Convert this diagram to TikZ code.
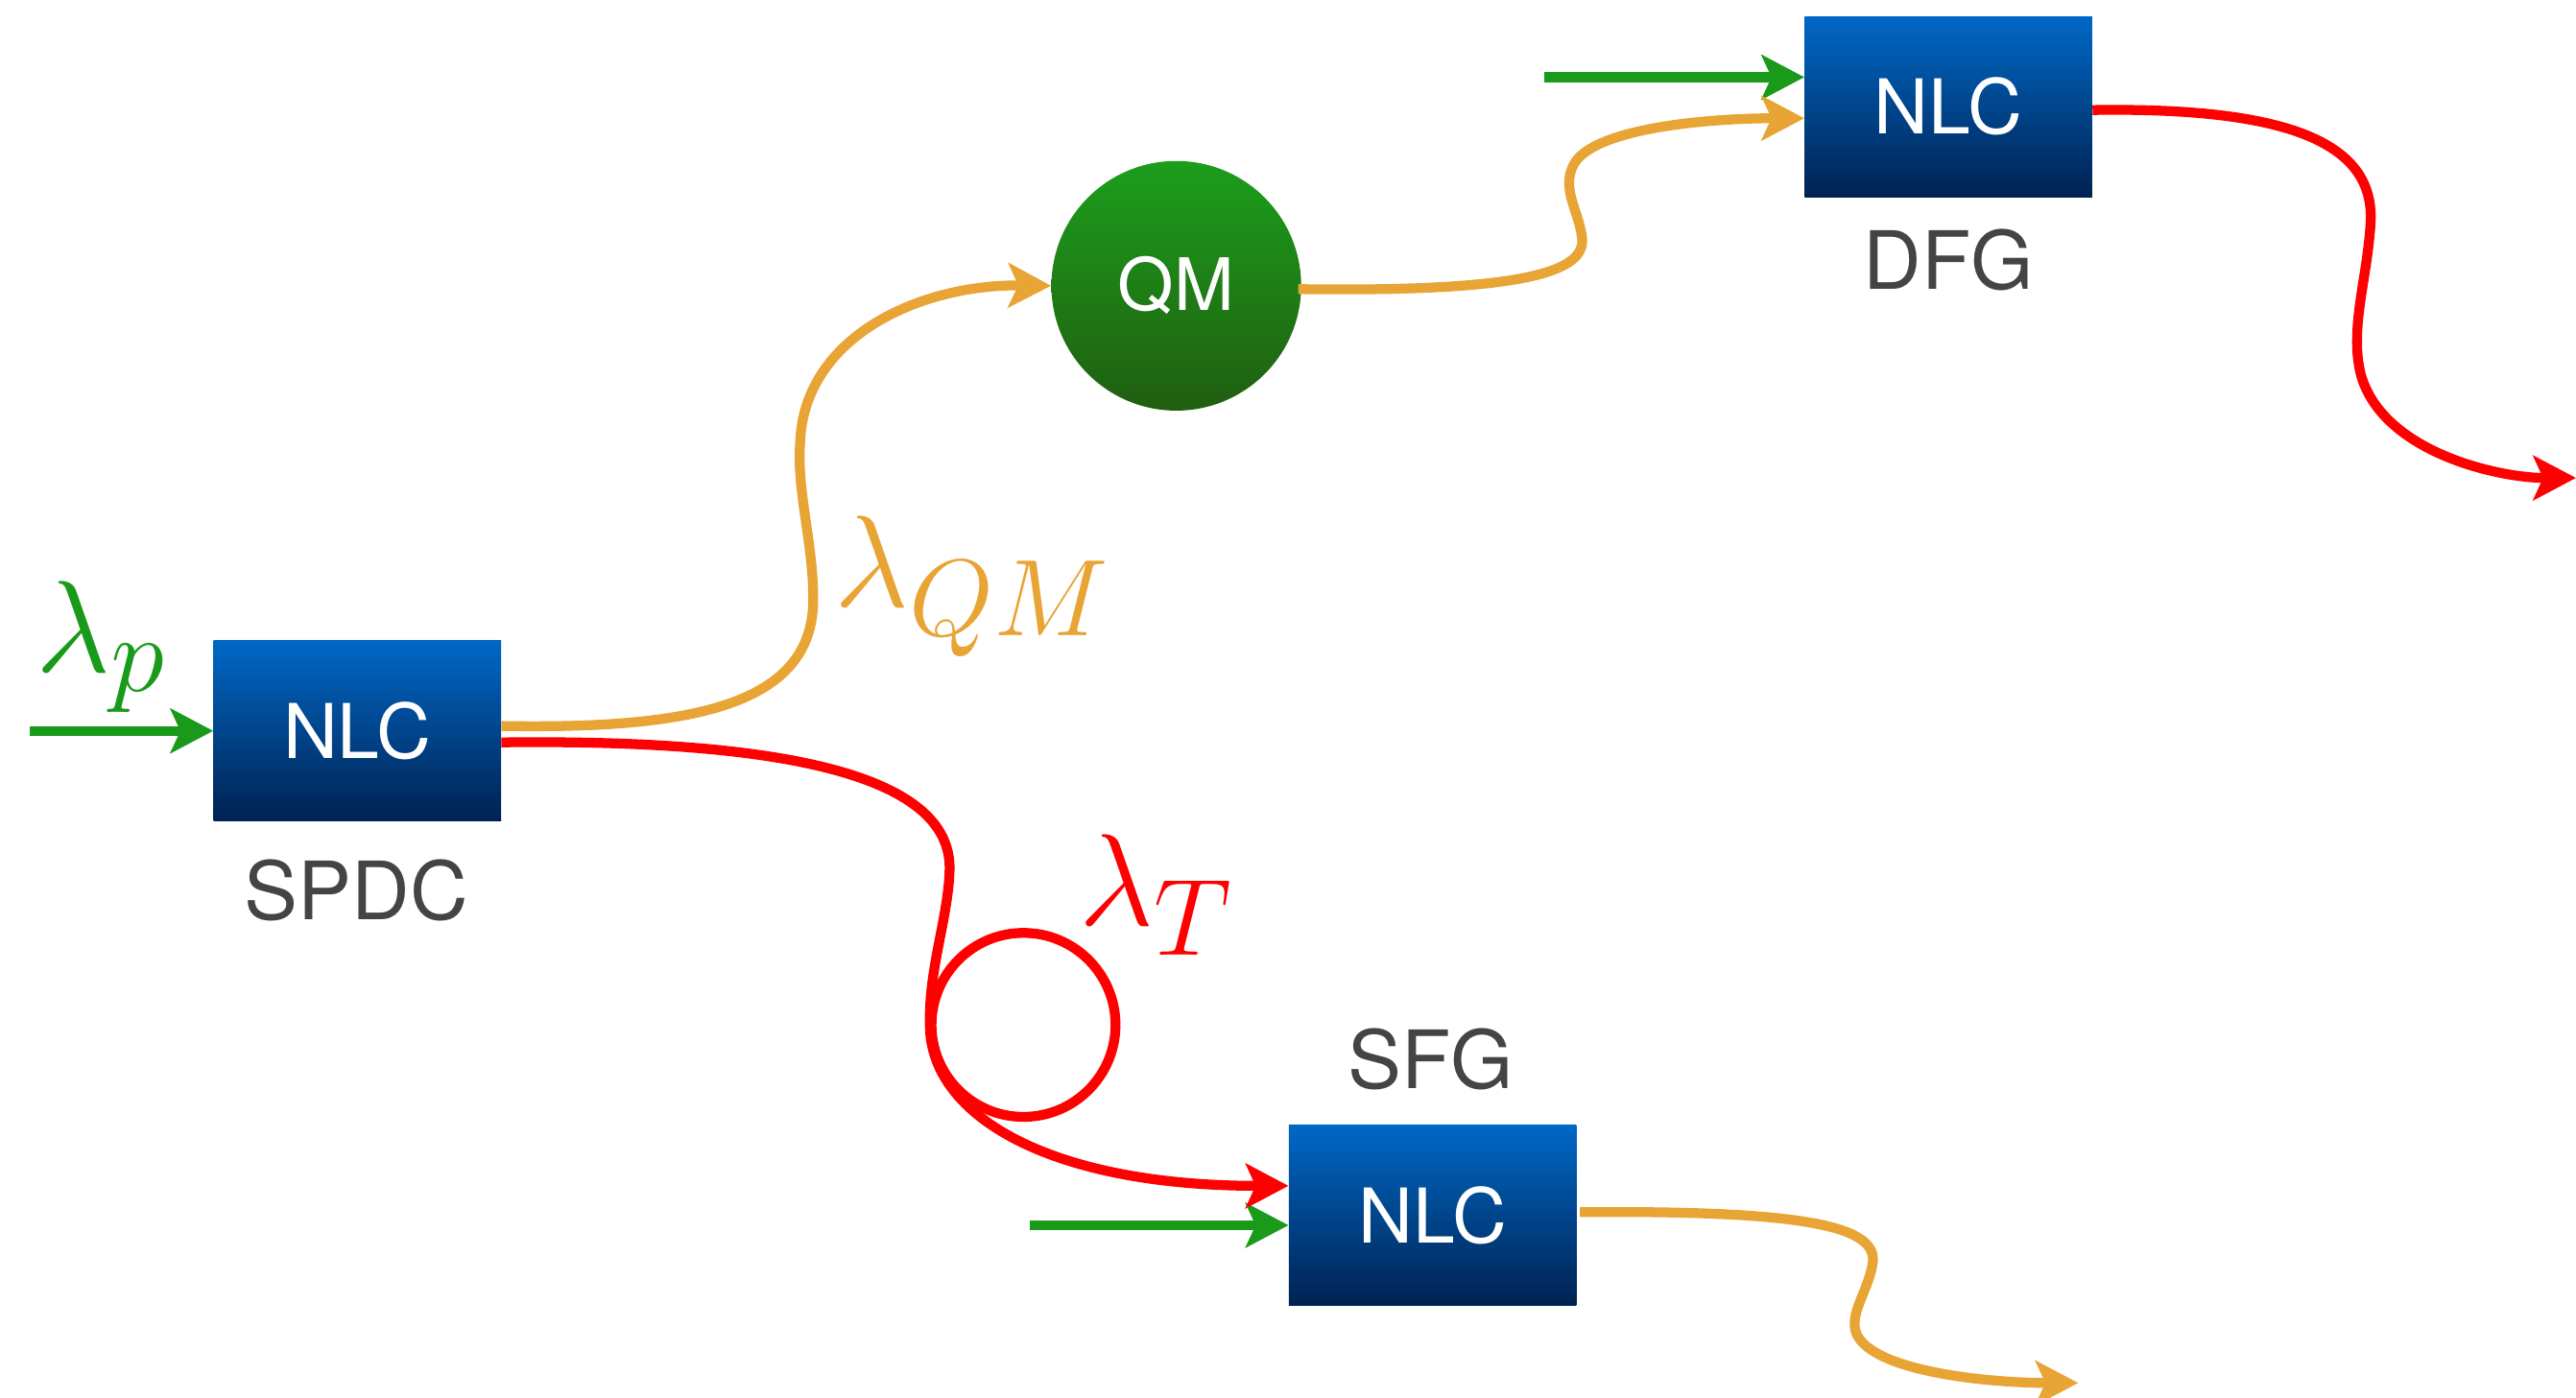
\documentclass[tikz,border=0pt]{standalone}
\usepackage{fontspec}
\setsansfont{TeX Gyre Heros}
\usetikzlibrary{arrows.meta,calc}
\definecolor{pumpgreen}{RGB}{26,154,26}
\definecolor{qmorange}{RGB}{232,164,53}
\definecolor{tred}{RGB}{255,0,0}
\definecolor{boxtop}{RGB}{0,104,198}
\definecolor{boxbot}{RGB}{0,34,82}
\definecolor{qmtop}{RGB}{28,158,28}
\definecolor{qmbot}{RGB}{32,94,16}
\definecolor{labgray}{RGB}{68,68,68}
\begin{document}
\begin{tikzpicture}[x=1pt,y=-1pt,
  nlc/.style={rectangle, minimum width=175pt, minimum height=110pt, inner sep=0pt,
    top color=boxtop, bottom color=boxbot, text=white,
    font=\sffamily\fontsize{46}{50}\selectfont},
  qmnode/.style={circle, minimum size=152pt, inner sep=0pt,
    top color=qmtop, bottom color=qmbot, text=white,
    font=\sffamily\fontsize{44}{50}\selectfont},
  lab/.style={text=labgray, font=\sffamily\fontsize{49}{54}\selectfont, inner sep=0pt},
  mlab/.style={font=\Huge, scale=3.2, inner sep=0pt},
  beam/.style={line width=6pt, -{Stealth[length=26pt,width=27pt,inset=6pt]}},
  fib/.style={line width=6pt}
]
\useasboundingbox (0,0) rectangle (1568,851);

% nodes
\node[nlc] (spdc) at (217.5,445) {NLC};
\node[nlc] (dfg) at (1186,65) {NLC};
\node[nlc] (sfg) at (872,740) {NLC};
\node[qmnode] (qm) at (716,174) {QM};

\node[lab] (spdclab) at (217,542) {SPDC};
\node[lab] (dfglab) at (1186,158) {DFG};
\node[lab] (sfglab) at (871,645) {SFG};

\node[mlab, text=pumpgreen] (lp) at (62,394) {$\lambda_p$};
\node[mlab, text=qmorange] (lqm) at (592,357) {$\lambda_{QM}$};
\node[mlab, text=tred] (lt) at (704,545) {$\lambda_T$};

% free ends
\coordinate (pin1) at (18,445);
\coordinate (pin2) at (940,47);
\coordinate (pin3) at (627,746);
\coordinate (outr) at (1568,291);
\coordinate (outo) at (1265,842);

% pump beams
\draw[beam, pumpgreen] (pin1) -- (spdc.west);
\draw[beam, pumpgreen] (pin2) -- ($(dfg.west)+(0,-18)$);
\draw[beam, pumpgreen] (pin3) -- ($(sfg.west)+(0,6)$);

% QM photon SPDC -> QM
\draw[beam, qmorange] ($(spdc.east)+(0,-3)$)
  .. controls (420,444) and (495,430) .. (495,365)
  .. controls (495,330) and (485,300) .. (487,270)
  .. controls (489,205) and (560,173) .. (qm.west);

% QM -> DFG
\draw[beam, qmorange] ($(qm.east)+(-2,2)$)
  .. controls (930,178) and (965,165) .. (963,145)
  .. controls (961,128) and (950,115) .. (958,100)
  .. controls (970,78) and (1040,72) .. ($(dfg.west)+(0,7)$);

% DFG -> out
\draw[beam, tred] ($(dfg.east)+(0,2)$)
  .. controls (1400,65) and (1445,90) .. (1443,135)
  .. controls (1441,170) and (1430,200) .. (1437,228)
  .. controls (1450,275) and (1520,291) .. (outr);

% telecom photon SPDC -> SFG with fiber loop
\draw[beam, tred] ($(spdc.east)+(0,7)$)
  .. controls (470,450) and (580,470) .. (578,530)
  .. controls (577,560) and (565,590) .. (566,625)
  .. controls (567,680) and (640,722) .. ($(sfg.west)+(0,-18)$);
\draw[fib, tred] (623,624) circle[radius=56];

% SFG -> out
\draw[beam, qmorange] ($(sfg.east)+(2,-2)$)
  .. controls (1090,737) and (1142,745) .. (1140,768)
  .. controls (1138,785) and (1125,800) .. (1130,812)
  .. controls (1140,835) and (1210,842) .. (outo);
\end{tikzpicture}
\end{document}
